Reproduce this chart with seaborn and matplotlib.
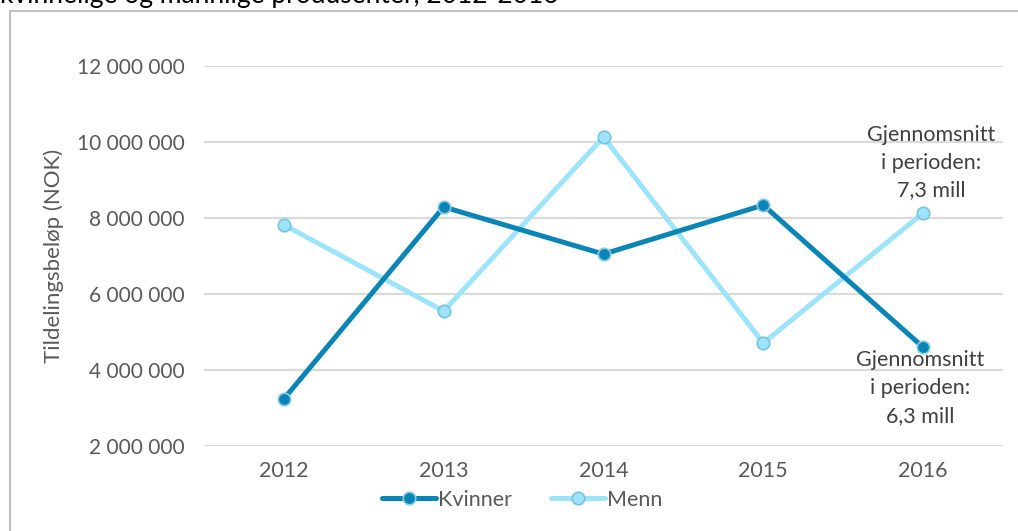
import matplotlib
matplotlib.use("Agg")
import matplotlib.pyplot as plt
from matplotlib.lines import Line2D
from matplotlib.ticker import FuncFormatter
import pandas as pd
import seaborn as sns

# data
years = ["2012", "2013", "2014", "2015", "2016"]
kvinner = [3240000, 8290000, 7050000, 8340000, 4600000]
menn = [7820000, 5550000, 10130000, 4710000, 8130000]
y_ticks = [2000000, 4000000, 6000000, 8000000, 10000000, 12000000]
snitt_kvinner = "Gjennomsnitt\ni perioden:\n6,3 mill"
snitt_menn = "Gjennomsnitt\ni perioden:\n7,3 mill"

sns.set_style("white")
plt.rcParams["font.family"] = ["Lato", "DejaVu Sans"]

text_col = "#595959"
k_col = "#0A85B5"
m_col = "#9DE3FA"

df = pd.DataFrame({"pos": range(len(years)), "Kvinner": kvinner, "Menn": menn})

fig = plt.figure(figsize=(10.18, 5.31), dpi=100)
ax = fig.add_axes([204 / 1018, 1 - 446 / 531, (1003 - 204) / 1018, (446 - 66) / 531])

sns.lineplot(data=df, x="pos", y="Kvinner", ax=ax, color=k_col, lw=3.6,
             marker="o", ms=9, mfc=k_col, mec="#8CCBE3", mew=1.2, zorder=4)
sns.lineplot(data=df, x="pos", y="Menn", ax=ax, color=m_col, lw=3.6,
             marker="o", ms=9, mfc=m_col, mec="#79C4DD", mew=1.2, zorder=3)

ax.set_xlim(-0.5, len(years) - 0.5)
ax.set_ylim(2000000, 12000000)
ax.set_yticks(y_ticks)
ax.yaxis.set_major_formatter(FuncFormatter(lambda v, p: f"{int(v):,}".replace(",", " ")))
ax.set_xticks(range(len(years)))
ax.set_xticklabels(years)
ax.tick_params(axis="y", length=0, pad=14, labelsize=15, labelcolor=text_col)
ax.tick_params(axis="x", length=0, pad=11, labelsize=15.5, labelcolor=text_col)
ax.grid(axis="y", color="#D9D9D9", lw=1.5)
ax.set_axisbelow(True)
for s in ax.spines.values():
    s.set_visible(False)
ax.set_xlabel("")
ax.set_ylabel("Tildelingsbeløp (NOK)", fontsize=16, color=text_col, labelpad=9)

ax.text(4.05, menn[4] + 330000, snitt_menn, ha="center", va="bottom",
        fontsize=15.5, color="#404040", linespacing=1.5)
ax.text(3.98, kvinner[4] - 80000, snitt_kvinner, ha="center", va="top",
        fontsize=15.5, color="#404040", linespacing=1.5)

handles = [
    Line2D([], [], color=k_col, lw=3.6, marker="o", ms=9, mfc=k_col, mec="#8CCBE3", mew=1.2),
    Line2D([], [], color=m_col, lw=3.6, marker="o", ms=9, mfc=m_col, mec="#79C4DD", mew=1.2),
]
fig.legend(handles, ["Kvinner", "Menn"], loc="center", bbox_to_anchor=(522 / 1018, 1 - 500 / 531),
           ncol=2, frameon=False, fontsize=15.5, labelcolor=text_col, handlelength=2.5,
           handletextpad=0.1, columnspacing=1.8)

# chart border (left and top edge only visible) and clipped title
fig.add_artist(Line2D([10 / 1018, 10 / 1018], [0, 1 - 11 / 531], color="#BFBFBF", lw=1.5))
fig.add_artist(Line2D([10 / 1018, 1], [1 - 11 / 531, 1 - 11 / 531], color="#BFBFBF", lw=1.5))
fig.text(0.0, 1 - 3 / 531, "kvinnelige og mannlige produsenter, 2012-2016", fontsize=19,
         color="#000000", va="baseline", ha="left")

fig.savefig("out.png", dpi=100)
